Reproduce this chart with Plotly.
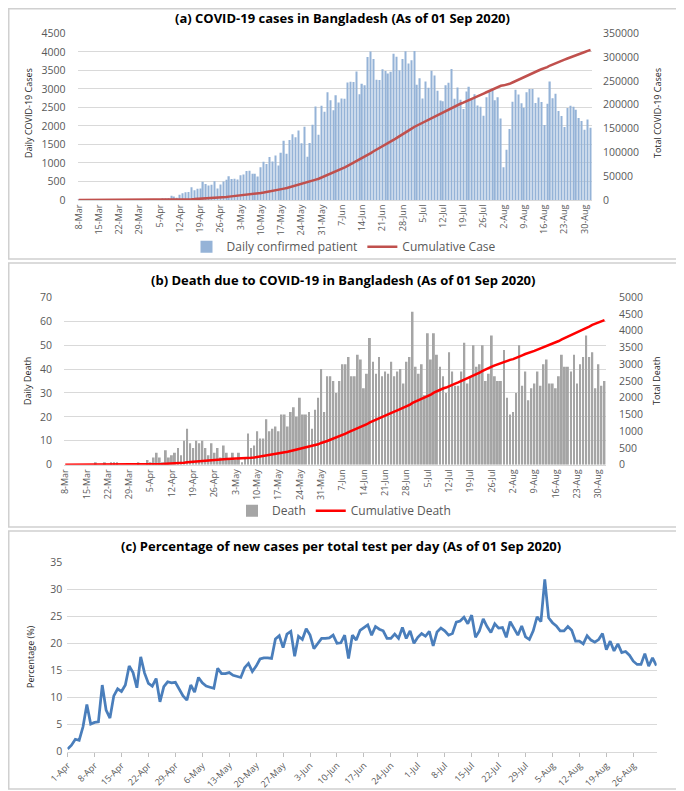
import plotly.graph_objects as go
import pandas as pd

# The page body keeps the browser's default 8px margin (top/left); the figure
# is sized so that it reaches exactly the right and bottom edges of the
# 684x791 window.
PAGE_W, PAGE_H = 684, 791
OFF = 8
W, H = PAGE_W - OFF, PAGE_H - OFF
DAY = 86400000


def fx(px):
    return (px - OFF) / W


def fy(py):
    return 1 - (py - OFF) / H


# ---------------- data ----------------
case_dates = pd.date_range("2020-03-08", "2020-09-01", freq="D")
rate_dates = pd.date_range("2020-04-01", "2020-09-01", freq="D")

daily_cases = [
    3, 0, 0, 0, 0, 0, 0, 2, 3, 2, 4, 3, 3, 4, 3, 6, 6, 0, 5, 4, 0, 0, 1, 2,
    3, 2, 5, 9, 18, 35, 41, 54, 112, 94, 58, 139, 182, 209, 219, 341, 266, 306, 312, 492,
    434, 390, 414, 503, 309, 418, 497, 549, 641, 564,
    571, 552, 665, 688, 786, 790, 706, 709, 636, 887, 1034, 969, 1162, 1041, 1202, 930,
    1273, 1602, 1251, 1617, 1773, 1694, 1873, 1532, 1975, 1166, 1541, 2029, 2523, 1764, 2545,
    2381, 2911, 2695, 2423, 2828, 2635, 2743, 2735, 3171, 3190, 3187, 3471, 2856, 3141, 3099,
    3862, 4008, 3803, 3243, 3240, 3531, 3480, 3412, 3462, 3946, 3868, 3504, 3809, 4014, 3682,
    3775, 4019, 3114, 3288, 2738, 3201, 3027, 3489, 3360, 2949, 2686, 2666, 3099, 3163, 3533,
    2733, 3034, 2709, 2459, 2928, 3057, 2744, 2856, 2548, 2520, 2275, 2772, 2960, 3009, 2695, 2772,
    2199, 886, 1356, 1918, 2654, 2977, 2851, 2611, 2487, 2907, 2996, 2995, 2617, 2766, 2644,
    2024, 2595, 3200, 2747, 2868, 2401, 2265, 1973, 2485, 2545, 2519, 2436, 2211, 2131, 1897, 2174,
    1950,
]

cumulative_cases = [
    3, 3, 3, 3, 3, 3, 3, 5, 8, 10, 14, 17, 20, 24, 27, 33, 39, 39, 44, 48, 48, 48, 49, 51,
    54, 56, 61, 70, 88, 123, 164, 218, 330, 424, 482, 621, 803, 1012, 1231, 1572, 1838, 2144,
    2456, 2948, 3382, 3772, 4186, 4689, 4998, 5416, 5913, 6462, 7103, 7667,
    8238, 8790, 9455, 10143, 10929, 11719, 12425, 13134, 13770, 14657, 15691, 16660, 17822,
    18863, 20065, 20995, 22268, 23870, 25121, 26738, 28511, 30205, 32078, 33610, 35585, 36751,
    38292, 40321, 42844, 44608, 47153,
    49534, 52445, 55140, 57563, 60391, 63026, 65769, 68504, 71675, 74865, 78052, 81523, 84379,
    87520, 90619, 94481, 98489, 102292, 105535, 108775, 112306, 115786, 119198, 122660, 126606,
    130474, 133978, 137787, 141801, 145483,
    149258, 153277, 156391, 159679, 162417, 165618, 168645, 172134, 175494, 178443, 181129,
    183795, 186894, 190057, 193590, 196323, 199357, 202066, 204525, 207453, 210510, 213254,
    216110, 218658, 221178, 223453, 226225, 229185, 232194, 234889, 237661,
    239860, 240746, 242102, 244020, 246674, 249651, 252502, 255113, 257600, 260507, 263503,
    266498, 269115, 271881, 274525, 276549, 279144, 282344, 285091, 287959, 290360, 292625,
    294598, 297083, 299628, 302147, 304583, 306794, 308925, 310822, 312996,
    314946,
]

daily_deaths = [
    0, 0, 0, 0, 0, 0, 0, 0, 0, 0, 1, 0, 0, 1, 0, 1, 1, 1, 0, 0, 0, 0, 0, 0,
    1, 0, 0, 2, 1, 3, 5, 3, 1, 6, 3, 4, 5, 7, 4, 10, 15, 9, 7, 10, 9, 10, 7, 4, 9, 5,
    7, 3, 8, 5,
    2, 5, 2, 5, 1, 3, 13, 7, 8, 14, 11, 11, 19, 14, 15, 16, 14, 21, 21, 16, 22, 24, 20, 28,
    21, 21, 22, 15, 23, 28, 40,
    22, 37, 37, 35, 30, 35, 42, 42, 45, 37, 37, 46, 44, 32, 38, 53, 43, 38, 45, 37, 39, 38,
    43, 37, 39, 40, 34, 43, 45, 64,
    41, 38, 42, 29, 55, 44, 55, 46, 41, 37, 30, 47, 39, 33, 33, 39, 51, 34, 37, 50, 41, 42,
    50, 35, 38, 54, 37, 35, 35, 48, 28,
    21, 22, 30, 50, 33, 39, 27, 32, 34, 39, 33, 42, 44, 34, 34, 32, 37, 46, 41, 41, 39, 46,
    34, 42, 45, 54, 45, 47, 32, 42, 33,
    35,
]

cumulative_deaths = [
    0, 0, 0, 0, 0, 0, 0, 0, 0, 0, 1, 1, 1, 2, 2, 3, 4, 5, 5, 5, 5, 5, 5, 5,
    6, 6, 6, 8, 9, 12, 17, 20, 21, 27, 30, 34, 39, 46, 50, 60, 75, 84, 91, 101, 110, 120,
    127, 131, 140, 145, 152, 155, 163, 168,
    170, 175, 177, 182, 183, 186, 199, 206, 214, 228, 239, 250, 269, 283, 298, 314, 328, 349,
    370, 386, 408, 432, 452, 480, 501, 522, 544, 559, 582, 610, 650,
    672, 709, 746, 781, 811, 846, 888, 930, 975, 1012, 1049, 1095, 1139, 1171, 1209, 1262,
    1305, 1343, 1388, 1425, 1464, 1502, 1545, 1582, 1621, 1661, 1695, 1738, 1783, 1847,
    1888, 1926, 1968, 1997, 2052, 2096, 2151, 2197, 2238, 2275, 2305, 2352, 2391, 2424, 2457,
    2496, 2547, 2581, 2618, 2668, 2709, 2751, 2801, 2836, 2874, 2928, 2965, 3000, 3035, 3083, 3111,
    3132, 3154, 3184, 3234, 3267, 3306, 3333, 3365, 3399, 3438, 3471, 3513, 3557, 3591, 3625,
    3657, 3694, 3740, 3781, 3822, 3861, 3907, 3941, 3983, 4028, 4082, 4127, 4174, 4206, 4248, 4281,
    4316,
]

positive_rate = [
    0.5, 1.2, 2.3, 2.1, 4.6, 8.7, 5.1, 5.4, 5.5, 12.3, 7.7, 6.2, 10.3, 11.6, 11.1, 12.3, 15.8,
    14.6, 11.8, 17.5, 14.5, 12.6, 12.1, 13.5, 9.2, 12.0, 12.9, 12.7, 12.8, 11.5,
    10.3, 9.5, 12.3, 11.0, 13.7, 12.7, 12.1, 11.9, 11.7, 15.4, 14.4, 14.4, 14.6, 14.1, 13.9,
    13.7, 15.5, 16.3, 14.8, 15.8, 17.1, 17.3, 17.3, 17.2, 20.8, 21.4, 19.2, 21.7, 22.2, 17.6, 21.3,
    20.7, 22.7, 21.5, 19.0, 20.0, 20.9, 20.9, 21.0, 21.5, 20.0, 20.1, 21.5, 17.2, 21.5, 20.6, 22.4,
    22.9, 23.4, 21.5, 23.1, 22.6, 22.3, 20.9, 20.9, 21.7, 20.9, 22.9, 20.9, 22.3, 20.0,
    21.1, 21.8, 21.3, 22.2, 19.5, 22.1, 22.8, 22.3, 21.5, 21.8, 23.9, 24.1, 24.8, 23.6, 25.2,
    21.1, 22.3, 24.5, 23.1, 22.0, 23.6, 22.8, 22.9, 21.1, 24.0, 22.6, 21.5, 23.2, 21.2, 20.7, 22.3,
    24.9, 24.0, 31.8, 24.7, 23.8, 23.2, 22.3, 22.3, 23.1, 22.4, 20.4, 20.4, 19.9, 21.4, 20.6,
    20.2, 20.7, 21.8, 18.8, 20.4, 18.6, 19.9, 18.3, 18.5, 17.8, 16.7, 16.1, 16.1, 18.1, 15.8, 17.3,
    15.9,
]

# ---------------- style ----------------
FONT = "Open Sans"
TICK_FONT = dict(family=FONT, size=10.5, color="#595959")
XTICK_FONT = dict(family=FONT, size=9, color="#595959")
GRID = "#d9d9d9"

fig = go.Figure()

fig.add_trace(go.Bar(
    x=case_dates, y=daily_cases, width=0.45 * DAY,
    marker=dict(color="#95B3D7", line=dict(width=0)),
    name="Daily confirmed patient", xaxis="x", yaxis="y", legend="legend",
))
fig.add_trace(go.Scatter(
    x=case_dates, y=cumulative_cases, mode="lines",
    line=dict(color="#C0504D", width=2.5),
    name="Cumulative Case", xaxis="x", yaxis="y2", legend="legend",
))
fig.add_trace(go.Bar(
    x=case_dates, y=daily_deaths, width=0.62 * DAY,
    marker=dict(color="#A5A5A5", line=dict(width=0)),
    name="Death", xaxis="x2", yaxis="y3", legend="legend2",
))
fig.add_trace(go.Scatter(
    x=case_dates, y=cumulative_deaths, mode="lines",
    line=dict(color="#FF0000", width=2.5),
    name="Cumulative Death", xaxis="x2", yaxis="y4", legend="legend2",
))
fig.add_trace(go.Scatter(
    x=rate_dates, y=positive_rate, mode="lines",
    line=dict(color="#4A7EBB", width=2.75),
    name="Percentage", xaxis="x3", yaxis="y5", showlegend=False,
))

date_range_ab = ["2020-03-07 14:00", "2020-09-01 12:00"]

common_x = dict(
    type="date", tickformat="%-d-%b", dtick=7 * DAY, tickangle=-90,
    tickfont=XTICK_FONT, showgrid=False, zeroline=False,
    showline=True, linecolor=GRID, linewidth=1, ticks="",
    fixedrange=True, automargin=False,
)
common_y = dict(
    showgrid=True, gridcolor=GRID, gridwidth=1, zeroline=False, showline=False,
    tickfont=TICK_FONT, ticks="", fixedrange=True, automargin=False,
)

LEG_FONT = dict(family=FONT, size=12, color="#595959")

fig.update_layout(
    width=W, height=H,
    margin=dict(l=0, r=0, t=0, b=0, autoexpand=False),
    paper_bgcolor="white", plot_bgcolor="white",
    font=dict(family=FONT, color="#595959"),
    xaxis=dict(common_x, domain=[fx(77.5), fx(592)], anchor="y",
               range=date_range_ab, tick0="2020-03-08"),
    yaxis=dict(common_y, domain=[fy(200), fy(33.3)], range=[0, 4500], dtick=500,
               anchor="x", ticklabelstandoff=11),
    yaxis2=dict(common_y, overlaying="y", side="right", anchor="x", showgrid=False,
                range=[0, 350000], dtick=50000, tickformat="d", ticklabelstandoff=10),
    xaxis2=dict(common_x, domain=[fx(64), fx(606)], anchor="y3",
                range=date_range_ab, tick0="2020-03-08"),
    yaxis3=dict(common_y, domain=[fy(464.7), fy(297.3)], range=[0, 70], dtick=10,
                anchor="x2", ticklabelstandoff=11),
    yaxis4=dict(common_y, overlaying="y3", side="right", anchor="x2", showgrid=False,
                range=[0, 5000], dtick=500, tickformat="d", ticklabelstandoff=12),
    xaxis3=dict(type="date", tickformat="%-d-%b", dtick=7 * DAY, tick0="2020-04-01",
                tickangle=-45, tickfont=XTICK_FONT, showgrid=False, zeroline=False,
                showline=True, linecolor=GRID, linewidth=1, ticks="outside",
                ticklen=4, tickcolor="#bfbfbf", automargin=False,
                domain=[fx(67.3), fx(656.7)], anchor="y5",
                range=["2020-03-31 22:00", "2020-09-01 02:00"], fixedrange=True),
    yaxis5=dict(common_y, domain=[fy(751.7), fy(562)], range=[0, 35], dtick=5,
                anchor="x3", ticklabelstandoff=4),
    legend=dict(orientation="h", x=fx(344), y=fy(246.7), xanchor="center", yanchor="middle",
                font=LEG_FONT, bgcolor="rgba(0,0,0,0)", itemwidth=30),
    legend2=dict(orientation="h", x=fx(344), y=fy(510.7), xanchor="center", yanchor="middle",
                 font=LEG_FONT, bgcolor="rgba(0,0,0,0)", itemwidth=30),
    showlegend=True,
)

# panel borders (the left/top edges are clamped to the figure area)
for y0, y1 in [(8.75, 259), (263, 527), (531, 789)]:
    fig.add_shape(type="rect", xref="paper", yref="paper",
                  x0=fx(8.75), x1=fx(681), y0=fy(y1), y1=fy(y0),
                  line=dict(color="#d0d0d0", width=1.5), fillcolor="rgba(0,0,0,0)", layer="below")

TITLE_FONT = dict(family=FONT, size=13, color="#000000")
AXT_FONT = dict(family=FONT, size=9, color="#262626")

annotations = [
    dict(text="<b>(a) COVID-19 cases in Bangladesh (As of 01 Sep 2020)</b>", x=fx(342), y=fy(18),
         font=TITLE_FONT),
    dict(text="<b>(b) Death due to COVID-19 in Bangladesh (As of 01 Sep 2020)</b>", x=fx(343),
         y=fy(279.5), font=TITLE_FONT),
    dict(text="<b>(c) Percentage of new cases per total test per day (As of 01 Sep 2020)</b>",
         x=fx(341), y=fy(545.5), font=TITLE_FONT),
    dict(text="Daily COVID-19 Cases", x=fx(28), y=fy(113), textangle=-90, font=AXT_FONT),
    dict(text="Total COVID-19 Cases", x=fx(657), y=fy(113), textangle=-90, font=AXT_FONT),
    dict(text="Daily Death", x=fx(28), y=fy(381), textangle=-90, font=AXT_FONT),
    dict(text="Total Death", x=fx(657), y=fy(381), textangle=-90, font=AXT_FONT),
    dict(text="Percentage (%)", x=fx(30), y=fy(657), textangle=-90, font=AXT_FONT),
]
for a in annotations:
    a.update(xref="paper", yref="paper", showarrow=False, xanchor="center", yanchor="middle")
fig.update_layout(annotations=annotations)

fig.write_html("out.html")
